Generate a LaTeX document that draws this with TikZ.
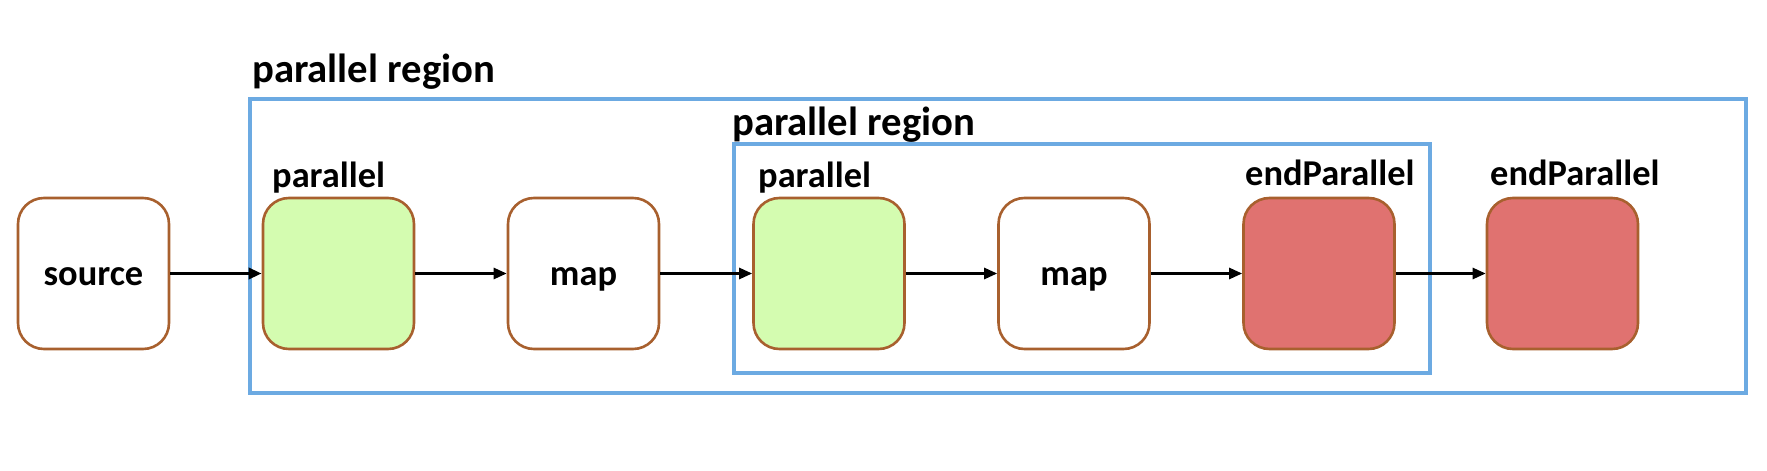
\documentclass[tikz,border=0pt]{standalone}
\usepackage{fontspec}
\setmainfont{Carlito}
\usetikzlibrary{arrows.meta}
\definecolor{boxborder}{HTML}{A8602E}
\definecolor{greenfill}{HTML}{D4FCB0}
\definecolor{redfill}{HTML}{E07270}
\definecolor{regionblue}{HTML}{6CAAE2}
\tikzset{
  opbox/.style={draw=boxborder, line width=2.6pt, rounded corners=26pt, minimum width=151pt, minimum height=151pt, inner sep=0pt, fill=white, font=\fontsize{36.4}{40}\selectfont\bfseries, text height=24pt, text depth=0pt},
  startbox/.style={opbox, fill=greenfill},
  endbox/.style={opbox, fill=redfill},
  region/.style={draw=regionblue, line width=4.5pt},
  regionlabel/.style={anchor=base west, inner sep=0pt, font=\fontsize{40.7}{44}\selectfont\bfseries},
  oplabel/.style={anchor=base west, inner sep=0pt, font=\fontsize{36.4}{40}\selectfont\bfseries},
  flow/.style={line width=2.6pt, -{Triangle[length=13pt,width=11pt]}},
}
\begin{document}
\begin{tikzpicture}[x=1pt,y=-1pt]
\useasboundingbox (0,0) rectangle (1767,471);
% regions
\draw[region] (250,99) rectangle (1746,393);
\draw[region] (734,144) rectangle (1430,373);
\node[regionlabel] (outerlbl) at (252,82) {parallel region};
\node[regionlabel] (innerlbl) at (732,135) {parallel region};
% boxes
\node[opbox] (src) at (93.5,273.5) {source};
\node[startbox] (p1) at (338.5,273.5) {};
\node[opbox] (m1) at (583.5,273.5) {map};
\node[startbox] (p2) at (829,273.5) {};
\node[opbox] (m2) at (1074,273.5) {map};
\node[endbox] (e1) at (1319,273.5) {};
\node[endbox] (e2) at (1562.5,273.5) {};
% labels
\node[oplabel] (p1lbl) at (272,187) {parallel};
\node[oplabel] (p2lbl) at (758,187) {parallel};
\node[oplabel] (e1lbl) at (1245,185) {endParallel};
\node[oplabel] (e2lbl) at (1490,185) {endParallel};
% connectors
\draw[flow, line width=3.6pt] (src.east) -- (p1.west);
\draw[flow] (p1.east) -- (m1.west);
\draw[flow] (m1.east) -- (p2.west);
\draw[flow] (p2.east) -- (m2.west);
\draw[flow] (m2.east) -- (e1.west);
\draw[flow] (e1.east) -- (e2.west);
\end{tikzpicture}
\end{document}
